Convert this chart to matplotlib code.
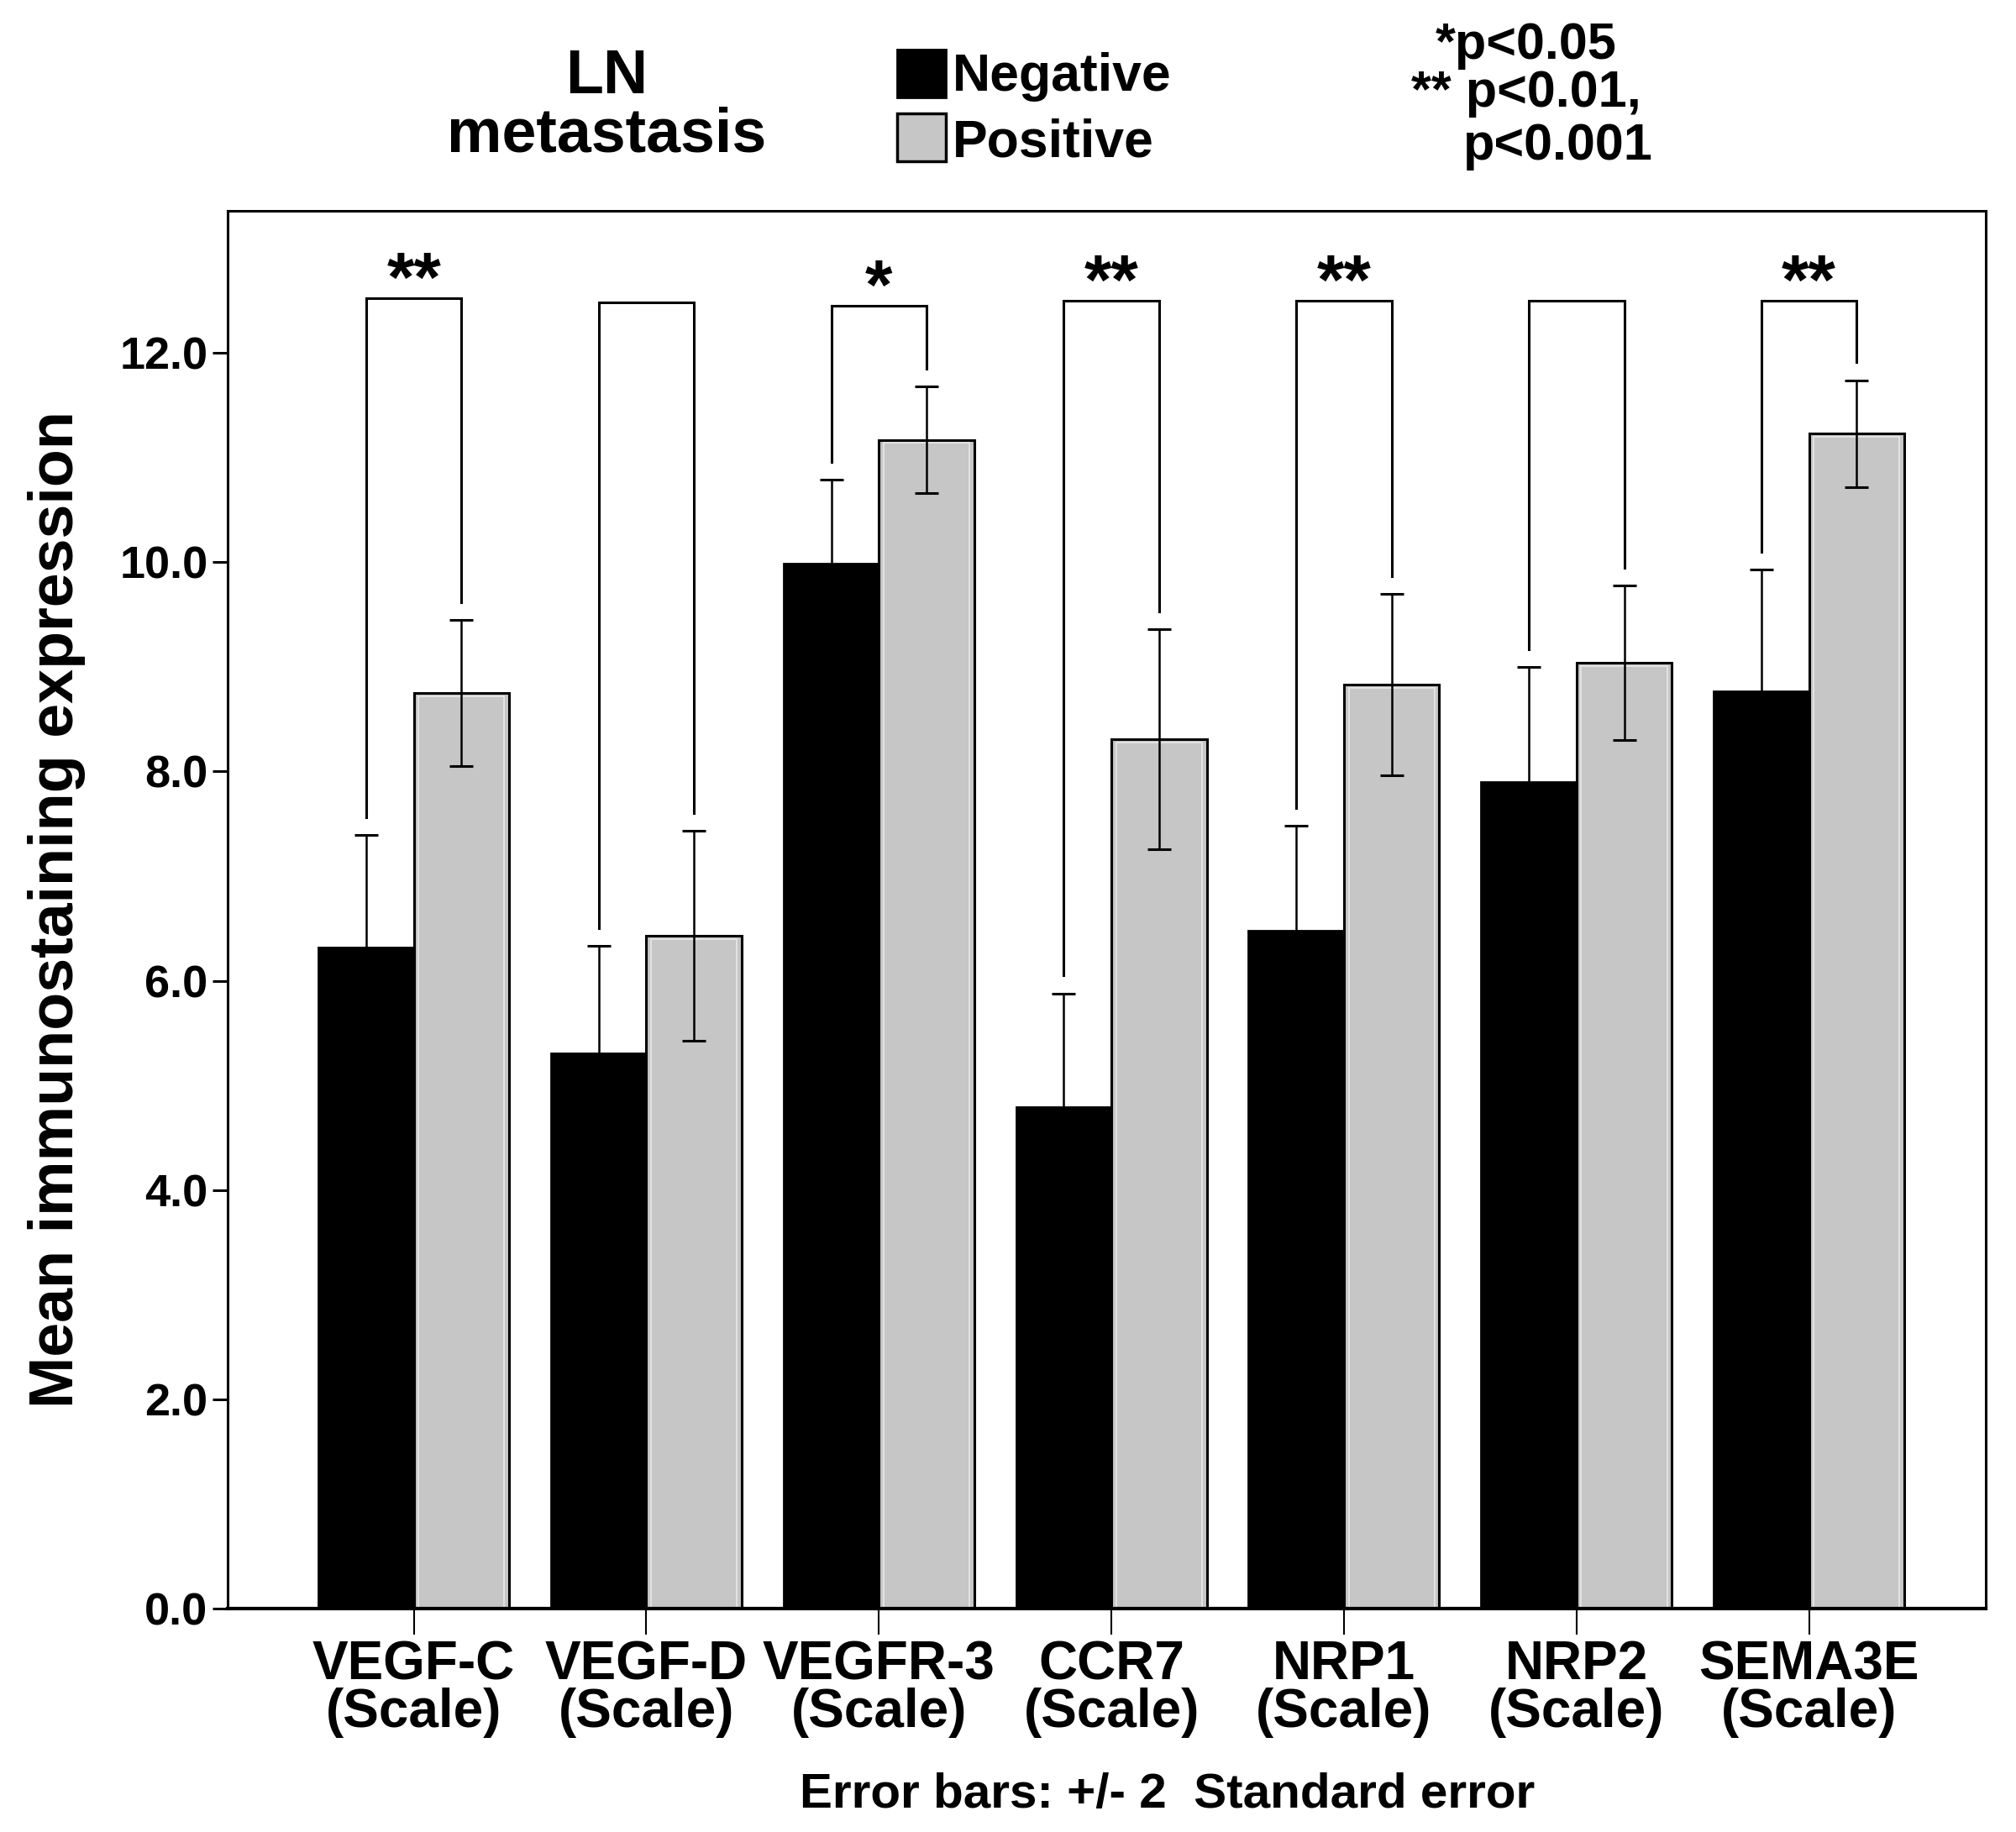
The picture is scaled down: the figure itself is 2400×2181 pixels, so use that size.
import matplotlib
matplotlib.use("Agg")
import matplotlib.pyplot as plt
import numpy as np
from matplotlib.patches import Rectangle

plt.rcParams['font.family'] = ['Liberation Sans', 'DejaVu Sans']
plt.rcParams['font.weight'] = 'bold'

markers = ["VEGF-C", "VEGF-D", "VEGFR-3", "CCR7", "NRP1", "NRP2", "SEMA3E"]
neg_mean = [6.32, 5.31, 9.99, 4.79, 6.48, 7.90, 8.77]
neg_err = [1.07, 1.02, 0.80, 1.09, 1.00, 1.10, 1.16]
pos_mean = [8.75, 6.43, 11.17, 8.31, 8.83, 9.04, 11.23]
pos_err = [0.70, 1.00, 0.51, 1.05, 0.87, 0.74, 0.51]
bracket_top = [12.52, 12.48, 12.45, 12.50, 12.50, 12.50, 12.50]
stars = ["**", "", "*", "**", "**", "", "**"]

fig = plt.figure(figsize=(24, 21.81), dpi=100)
ax = fig.add_axes([0.113, 0.122, 0.872, 0.763])

x = np.arange(len(markers))
w = 0.41
gray = "#c6c6c6"

ax.bar(x - w / 2, neg_mean, w, color="black", edgecolor="black", linewidth=2, zorder=2)
ax.bar(x + w / 2, pos_mean, w, color=gray, edgecolor="black", linewidth=2.2, zorder=2)
# thin light inner line on the grey bars
ax.bar(x + w / 2, np.array(pos_mean) - 0.03, w * 0.9, color="none",
       edgecolor="#e8e8e8", linewidth=1.2, zorder=2)
ax.errorbar(x - w / 2, neg_mean, yerr=neg_err, fmt="none", ecolor="black",
            elinewidth=1.8, capsize=10, capthick=2.2, zorder=3)
ax.errorbar(x + w / 2, pos_mean, yerr=pos_err, fmt="none", ecolor="black",
            elinewidth=1.8, capsize=10, capthick=2.2, zorder=3)

# significance brackets
gap = 0.17
for i in range(len(markers)):
    xl, xr = x[i] - w / 2, x[i] + w / 2
    yl = neg_mean[i] + neg_err[i] + gap
    yr = pos_mean[i] + pos_err[i] + gap
    top = bracket_top[i]
    ax.plot([xl, xl, xr, xr], [yl, top, top, yr], color="black", lw=2.2,
            solid_joinstyle="miter", zorder=4)
    if stars[i]:
        ax.text(x[i], top - 0.03, stars[i], ha="center", va="baseline",
                fontsize=60, fontweight="bold")

ax.set_xlim(-0.80, 6.76)
ax.set_ylim(0, 13.36)
ax.set_yticks(np.arange(0, 13, 2))
ax.set_yticklabels([f"{v:.1f}" for v in np.arange(0, 13, 2)], fontsize=39)
ax.set_xticks(x)
ax.set_xticklabels([f"{m}\n(Scale)" for m in markers], fontsize=46,
                   linespacing=0.92)
ax.tick_params(axis="y", length=13, width=2.2, pad=4)
ax.tick_params(axis="x", length=22, width=1.5, pad=5)
for s in ax.spines.values():
    s.set_linewidth(2.2)
ax.spines["bottom"].set_linewidth(3)

ax.set_ylabel("Mean immunostaining expression", fontsize=53, fontweight="bold")
ax.yaxis.set_label_coords(-0.081, 0.5)

# header legend
fig.text(0.301, 0.958, "LN", ha="center", va="center", fontsize=53)
fig.text(0.301, 0.926, "metastasis", ha="center", va="center", fontsize=53)
fig.patches.append(Rectangle((0.445, 0.947), 0.024, 0.026, transform=fig.transFigure,
                             facecolor="black", edgecolor="black", lw=2))
fig.patches.append(Rectangle((0.445, 0.912), 0.024, 0.026, transform=fig.transFigure,
                             facecolor=gray, edgecolor="black", lw=2.5))
fig.text(0.4725, 0.958, "Negative", ha="left", va="center", fontsize=45)
fig.text(0.4725, 0.922, "Positive", ha="left", va="center", fontsize=45)

fig.text(0.712, 0.975, "*p<0.05", ha="left", va="center", fontsize=44)
fig.text(0.700, 0.949, "** p<0.01,", ha="left", va="center", fontsize=44)
fig.text(0.726, 0.920, "p<0.001", ha="left", va="center", fontsize=44)

fig.text(0.579, 0.020, "Error bars: +/- 2  Standard error", ha="center",
         va="center", fontsize=42)

fig.savefig("out.png", dpi=100, facecolor="white")
